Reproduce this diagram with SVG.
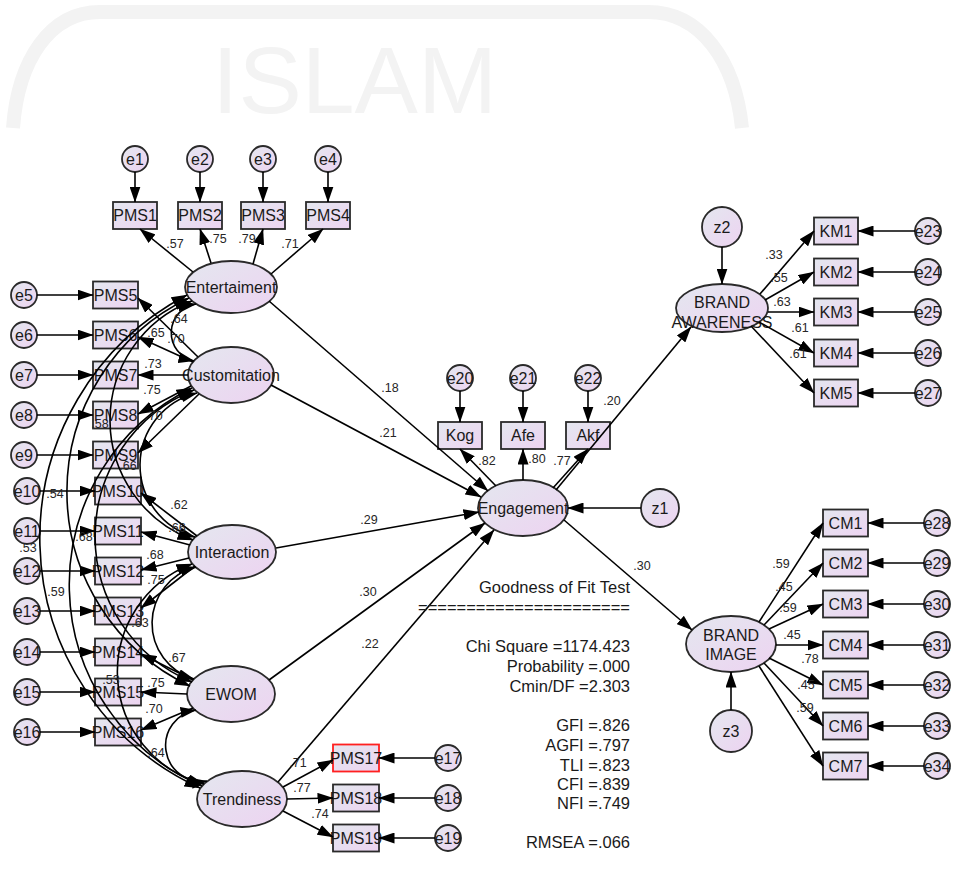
<svg xmlns="http://www.w3.org/2000/svg" width="956" height="872" viewBox="0 0 956 872">
<defs>
<linearGradient id="g" x1="0" y1="0" x2="1" y2="1">
<stop offset="0" stop-color="#e4e7ef"/>
<stop offset="1" stop-color="#edd3f1"/>
</linearGradient>
<marker id="a" markerUnits="userSpaceOnUse" markerWidth="16" markerHeight="11" viewBox="0 0 16 11" refX="15.5" refY="5.5" orient="auto"><path d="M0,0 L16,5.5 L0,11 Z" fill="#000"/></marker>
<marker id="b" markerUnits="userSpaceOnUse" markerWidth="16" markerHeight="11" viewBox="0 0 16 11" refX="15.5" refY="5.5" orient="auto-start-reverse"><path d="M0,0 L16,5.5 L0,11 Z" fill="#000"/></marker>
</defs>
<style>
.n ellipse,.n rect,.n circle{fill:url(#g);stroke:#2a2a2a;stroke-width:1.8}
.n.red rect{stroke:#ff2020}
text{font-family:"Liberation Sans",Arial,sans-serif;fill:#1a1a1a}
.n text{font-size:16px;text-anchor:middle}
#labels text{font-size:12.5px;text-anchor:middle;fill:#262626}
#gof text{font-size:16.5px;text-anchor:end}
#connectors line{stroke:#000;stroke-width:1.6;fill:none;marker-end:url(#a)}
#connectors path{stroke:#000;stroke-width:1.6;fill:none;marker-start:url(#b);marker-end:url(#b)}
</style>
<rect width="956" height="872" fill="#fff"/>
<g id="watermark">
<path d="M13,128 C18,60 50,12 100,12 L648,12 C700,12 735,60 742,128" fill="none" stroke="#f3f3f3" stroke-width="14"/>
<text x="212" y="113" font-size="95" style="fill:#f3f3f3">ISLAM</text>
</g>
<g id="nodes">
<g id="e1" class="n"><circle cx="135" cy="159" r="13"/><text x="135" y="164.5">e1</text></g>
<g id="e2" class="n"><circle cx="200" cy="159" r="13"/><text x="200" y="164.5">e2</text></g>
<g id="e3" class="n"><circle cx="263" cy="159" r="13"/><text x="263" y="164.5">e3</text></g>
<g id="e4" class="n"><circle cx="328" cy="159" r="13"/><text x="328" y="164.5">e4</text></g>
<g id="PMS1" class="n"><rect x="113" y="202" width="44" height="27"/><text x="135" y="221">PMS1</text></g>
<g id="PMS2" class="n"><rect x="178" y="202" width="44" height="27"/><text x="200" y="221">PMS2</text></g>
<g id="PMS3" class="n"><rect x="241" y="202" width="44" height="27"/><text x="263" y="221">PMS3</text></g>
<g id="PMS4" class="n"><rect x="306" y="202" width="44" height="27"/><text x="328" y="221">PMS4</text></g>
<g id="e5" class="n"><circle cx="24" cy="295" r="13"/><text x="24" y="300.5">e5</text></g>
<g id="e6" class="n"><circle cx="24" cy="335" r="13"/><text x="24" y="340.5">e6</text></g>
<g id="e7" class="n"><circle cx="24" cy="375" r="13"/><text x="24" y="380.5">e7</text></g>
<g id="e8" class="n"><circle cx="24" cy="415" r="13"/><text x="24" y="420.5">e8</text></g>
<g id="e9" class="n"><circle cx="24" cy="455" r="13"/><text x="24" y="460.5">e9</text></g>
<g id="e10" class="n"><circle cx="27" cy="491" r="13"/><text x="27" y="496.5">e10</text></g>
<g id="e11" class="n"><circle cx="27" cy="531" r="13"/><text x="27" y="536.5">e11</text></g>
<g id="e12" class="n"><circle cx="27" cy="571" r="13"/><text x="27" y="576.5">e12</text></g>
<g id="e13" class="n"><circle cx="27" cy="611" r="13"/><text x="27" y="616.5">e13</text></g>
<g id="e14" class="n"><circle cx="27" cy="652" r="13"/><text x="27" y="657.5">e14</text></g>
<g id="e15" class="n"><circle cx="27" cy="692" r="13"/><text x="27" y="697.5">e15</text></g>
<g id="e16" class="n"><circle cx="27" cy="732" r="13"/><text x="27" y="737.5">e16</text></g>
<g id="PMS5" class="n"><rect x="93" y="281.5" width="45" height="27"/><text x="115.5" y="300.5">PMS5</text></g>
<g id="PMS6" class="n"><rect x="93" y="321.5" width="45" height="27"/><text x="115.5" y="340.5">PMS6</text></g>
<g id="PMS7" class="n"><rect x="93" y="361.5" width="45" height="27"/><text x="115.5" y="380.5">PMS7</text></g>
<g id="PMS8" class="n"><rect x="93" y="401.5" width="45" height="27"/><text x="115.5" y="420.5">PMS8</text></g>
<g id="PMS9" class="n"><rect x="93" y="441.5" width="45" height="27"/><text x="115.5" y="460.5">PMS9</text></g>
<g id="PMS10" class="n"><rect x="95" y="477.5" width="46" height="27"/><text x="118" y="496.5">PMS10</text></g>
<g id="PMS11" class="n"><rect x="95" y="517.5" width="46" height="27"/><text x="118" y="536.5">PMS11</text></g>
<g id="PMS12" class="n"><rect x="95" y="557.5" width="46" height="27"/><text x="118" y="576.5">PMS12</text></g>
<g id="PMS13" class="n"><rect x="95" y="597.5" width="46" height="27"/><text x="118" y="616.5">PMS13</text></g>
<g id="PMS14" class="n"><rect x="95" y="638.5" width="46" height="27"/><text x="118" y="657.5">PMS14</text></g>
<g id="PMS15" class="n"><rect x="95" y="678.5" width="46" height="27"/><text x="118" y="697.5">PMS15</text></g>
<g id="PMS16" class="n"><rect x="95" y="718.5" width="46" height="27"/><text x="118" y="737.5">PMS16</text></g>
<g id="Entertaiment" class="n"><ellipse cx="231" cy="287" rx="46" ry="26"/><text x="231" y="292.5">Entertaiment</text></g>
<g id="Customitation" class="n"><ellipse cx="231" cy="375" rx="43" ry="28"/><text x="231" y="380.5">Customitation</text></g>
<g id="Interaction" class="n"><ellipse cx="232" cy="552" rx="44" ry="27"/><text x="232" y="557.5">Interaction</text></g>
<g id="EWOM" class="n"><ellipse cx="231" cy="694" rx="44" ry="28"/><text x="231" y="699.5">EWOM</text></g>
<g id="Trendiness" class="n"><ellipse cx="242" cy="799" rx="45" ry="28"/><text x="242" y="804.5">Trendiness</text></g>
<g id="PMS17" class="n red"><rect x="333" y="744.5" width="46" height="27"/><text x="356" y="763.5">PMS17</text></g>
<g id="PMS18" class="n"><rect x="333" y="784.5" width="46" height="27"/><text x="356" y="803.5">PMS18</text></g>
<g id="PMS19" class="n"><rect x="333" y="824.5" width="46" height="27"/><text x="356" y="843.5">PMS19</text></g>
<g id="e17" class="n"><circle cx="448" cy="758" r="13"/><text x="448" y="763.5">e17</text></g>
<g id="e18" class="n"><circle cx="448" cy="798" r="13"/><text x="448" y="803.5">e18</text></g>
<g id="e19" class="n"><circle cx="448" cy="838" r="13"/><text x="448" y="843.5">e19</text></g>
<g id="Engagement" class="n"><ellipse cx="523" cy="508" rx="45" ry="28"/><text x="523" y="513.5">Engagement</text></g>
<g id="e20" class="n"><circle cx="460" cy="378" r="13"/><text x="460" y="383.5">e20</text></g>
<g id="e21" class="n"><circle cx="523" cy="378" r="13"/><text x="523" y="383.5">e21</text></g>
<g id="e22" class="n"><circle cx="588" cy="378" r="13"/><text x="588" y="383.5">e22</text></g>
<g id="Kog" class="n"><rect x="438" y="422" width="44" height="27"/><text x="460" y="441">Kog</text></g>
<g id="Afe" class="n"><rect x="501" y="422" width="44" height="27"/><text x="523" y="441">Afe</text></g>
<g id="Akf" class="n"><rect x="566" y="422" width="44" height="27"/><text x="588" y="441">Akf</text></g>
<g id="z1" class="n"><circle cx="660" cy="508" r="19"/><text x="660" y="513.5">z1</text></g>
<g id="z2" class="n"><circle cx="722" cy="227" r="20"/><text x="722" y="232.5">z2</text></g>
<g id="BRAND_AWARENESS" class="n"><ellipse cx="722" cy="308" rx="46" ry="24"/><text x="722" y="308">BRAND</text><text x="722" y="328">AWARENESS</text></g>
<g id="KM1" class="n"><rect x="814" y="217.5" width="44" height="27"/><text x="836" y="236.5">KM1</text></g>
<g id="KM2" class="n"><rect x="814" y="258.5" width="44" height="27"/><text x="836" y="277.5">KM2</text></g>
<g id="KM3" class="n"><rect x="814" y="298.5" width="44" height="27"/><text x="836" y="317.5">KM3</text></g>
<g id="KM4" class="n"><rect x="814" y="339.5" width="44" height="27"/><text x="836" y="358.5">KM4</text></g>
<g id="KM5" class="n"><rect x="814" y="379.5" width="44" height="27"/><text x="836" y="398.5">KM5</text></g>
<g id="e23" class="n"><circle cx="928" cy="231" r="13"/><text x="928" y="236.5">e23</text></g>
<g id="e24" class="n"><circle cx="928" cy="272" r="13"/><text x="928" y="277.5">e24</text></g>
<g id="e25" class="n"><circle cx="928" cy="312" r="13"/><text x="928" y="317.5">e25</text></g>
<g id="e26" class="n"><circle cx="928" cy="353" r="13"/><text x="928" y="358.5">e26</text></g>
<g id="e27" class="n"><circle cx="928" cy="393" r="13"/><text x="928" y="398.5">e27</text></g>
<g id="BRAND_IMAGE" class="n"><ellipse cx="731" cy="644" rx="45" ry="28"/><text x="731" y="641">BRAND</text><text x="731" y="660">IMAGE</text></g>
<g id="z3" class="n"><circle cx="731" cy="731" r="21"/><text x="731" y="736.5">z3</text></g>
<g id="CM1" class="n"><rect x="823" y="509.5" width="45" height="27"/><text x="845.5" y="528.5">CM1</text></g>
<g id="CM2" class="n"><rect x="823" y="549.5" width="45" height="27"/><text x="845.5" y="568.5">CM2</text></g>
<g id="CM3" class="n"><rect x="823" y="590.5" width="45" height="27"/><text x="845.5" y="609.5">CM3</text></g>
<g id="CM4" class="n"><rect x="823" y="631.5" width="45" height="27"/><text x="845.5" y="650.5">CM4</text></g>
<g id="CM5" class="n"><rect x="823" y="671.5" width="45" height="27"/><text x="845.5" y="690.5">CM5</text></g>
<g id="CM6" class="n"><rect x="823" y="712.5" width="45" height="27"/><text x="845.5" y="731.5">CM6</text></g>
<g id="CM7" class="n"><rect x="823" y="752.5" width="45" height="27"/><text x="845.5" y="771.5">CM7</text></g>
<g id="e28" class="n"><circle cx="937" cy="523" r="13"/><text x="937" y="528.5">e28</text></g>
<g id="e29" class="n"><circle cx="937" cy="563" r="13"/><text x="937" y="568.5">e29</text></g>
<g id="e30" class="n"><circle cx="937" cy="604" r="13"/><text x="937" y="609.5">e30</text></g>
<g id="e31" class="n"><circle cx="937" cy="645" r="13"/><text x="937" y="650.5">e31</text></g>
<g id="e32" class="n"><circle cx="937" cy="685" r="13"/><text x="937" y="690.5">e32</text></g>
<g id="e33" class="n"><circle cx="937" cy="726" r="13"/><text x="937" y="731.5">e33</text></g>
<g id="e34" class="n"><circle cx="937" cy="766" r="13"/><text x="937" y="771.5">e34</text></g>
</g>
<g id="connectors">
<line x1="135" y1="172" x2="135" y2="202"/>
<line x1="200" y1="172" x2="200" y2="202"/>
<line x1="263" y1="172" x2="263" y2="202"/>
<line x1="328" y1="172" x2="328" y2="202"/>
<line x1="37" y1="295" x2="93" y2="295"/>
<line x1="37" y1="335" x2="93" y2="335"/>
<line x1="37" y1="375" x2="93" y2="375"/>
<line x1="37" y1="415" x2="93" y2="415"/>
<line x1="37" y1="455" x2="93" y2="455"/>
<line x1="40" y1="491" x2="95" y2="491"/>
<line x1="40" y1="531" x2="95" y2="531"/>
<line x1="40" y1="571" x2="95" y2="571"/>
<line x1="40" y1="611" x2="95" y2="611"/>
<line x1="40" y1="652" x2="95" y2="652"/>
<line x1="40" y1="692" x2="95" y2="692"/>
<line x1="40" y1="732" x2="95" y2="732"/>
<line x1="435" y1="758" x2="379" y2="758"/>
<line x1="435" y1="798" x2="379" y2="798"/>
<line x1="435" y1="838" x2="379" y2="838"/>
<line x1="460" y1="391" x2="460" y2="422"/>
<line x1="523" y1="391" x2="523" y2="422"/>
<line x1="588" y1="391" x2="588" y2="422"/>
<line x1="641" y1="508" x2="568" y2="508"/>
<line x1="722" y1="247" x2="722" y2="284"/>
<line x1="731" y1="710" x2="731" y2="672"/>
<line x1="915" y1="231" x2="858" y2="231"/>
<line x1="915" y1="272" x2="858" y2="272"/>
<line x1="915" y1="312" x2="858" y2="312"/>
<line x1="915" y1="353" x2="858" y2="353"/>
<line x1="915" y1="393" x2="858" y2="393"/>
<line x1="924" y1="523" x2="868" y2="523"/>
<line x1="924" y1="563" x2="868" y2="563"/>
<line x1="924" y1="604" x2="868" y2="604"/>
<line x1="924" y1="645" x2="868" y2="645"/>
<line x1="924" y1="685" x2="868" y2="685"/>
<line x1="924" y1="726" x2="868" y2="726"/>
<line x1="924" y1="766" x2="868" y2="766"/>
<line x1="193" y1="272" x2="140" y2="229"/>
<line x1="211" y1="263" x2="200" y2="229"/>
<line x1="253" y1="264" x2="263" y2="229"/>
<line x1="271" y1="274" x2="323" y2="229"/>
<line x1="198" y1="357" x2="138" y2="298"/>
<line x1="193" y1="362" x2="138" y2="337"/>
<line x1="188" y1="375" x2="138" y2="375"/>
<line x1="191" y1="386" x2="138" y2="414"/>
<line x1="199" y1="394" x2="138" y2="453"/>
<line x1="197" y1="536" x2="141" y2="493"/>
<line x1="190" y1="545" x2="141" y2="532"/>
<line x1="189" y1="558" x2="141" y2="570"/>
<line x1="195" y1="566" x2="141" y2="608"/>
<line x1="193" y1="680" x2="141" y2="654"/>
<line x1="187" y1="694" x2="141" y2="692"/>
<line x1="193" y1="708" x2="141" y2="730"/>
<line x1="283" y1="787" x2="333" y2="760"/>
<line x1="287" y1="799" x2="333" y2="798"/>
<line x1="283" y1="811" x2="333" y2="837"/>
<line x1="269" y1="301" x2="488" y2="491"/>
<line x1="271" y1="385" x2="481" y2="497"/>
<line x1="276" y1="548" x2="479" y2="512"/>
<line x1="269" y1="680" x2="485" y2="523"/>
<line x1="278" y1="782" x2="494" y2="530"/>
<line x1="496" y1="486" x2="460" y2="449"/>
<line x1="523" y1="480" x2="523" y2="449"/>
<line x1="553" y1="488" x2="588" y2="449"/>
<line x1="556" y1="490" x2="691" y2="327"/>
<line x1="564" y1="520" x2="692" y2="630"/>
<line x1="760" y1="294" x2="814" y2="231"/>
<line x1="765" y1="300" x2="814" y2="272"/>
<line x1="768" y1="312" x2="814" y2="312"/>
<line x1="759" y1="322" x2="814" y2="353"/>
<line x1="751" y1="326" x2="814" y2="393"/>
<line x1="759" y1="622" x2="823" y2="523"/>
<line x1="764" y1="625" x2="823" y2="563"/>
<line x1="769" y1="629" x2="823" y2="604"/>
<line x1="776" y1="645" x2="823" y2="645"/>
<line x1="769" y1="658" x2="823" y2="685"/>
<line x1="764" y1="663" x2="823" y2="726"/>
<line x1="759" y1="666" x2="823" y2="766"/>
<path d="M196,304 A29,29 0 0 0 194,361"/>
<path d="M192,301 A127.8,127.8 0 0 0 193,540"/>
<path d="M189,298 A214.8,214.8 0 0 0 190,686"/>
<path d="M187,295 A274.7,274.7 0 0 0 200,788"/>
<path d="M197,393 A74.3,74.3 0 0 0 195,537"/>
<path d="M194,390 A157.8,157.8 0 0 0 192,682"/>
<path d="M192,388 A219,219 0 0 0 202,786"/>
<path d="M196,567 A58,58 0 0 0 194,679"/>
<path d="M192,564 A115.6,115.6 0 0 0 204,784"/>
<path d="M196,710 A35.4,35.4 0 0 0 207,781"/>
</g>
<g id="labels">
<text x="175" y="247.5">.57</text>
<text x="218" y="242.5">.75</text>
<text x="247" y="242.5">.79</text>
<text x="290" y="247.5">.71</text>
<text x="179" y="322.5">.64</text>
<text x="156" y="336.5">.65</text>
<text x="176" y="342.5">.70</text>
<text x="153" y="367.5">.73</text>
<text x="152" y="393.5">.75</text>
<text x="154" y="419.5">.70</text>
<text x="100" y="427.5">.58</text>
<text x="128" y="469.5">.66</text>
<text x="55" y="497.5">.54</text>
<text x="179" y="508.5">.62</text>
<text x="177" y="531.5">.66</text>
<text x="28" y="551.5">.53</text>
<text x="84" y="540.5">.68</text>
<text x="155" y="558.5">.68</text>
<text x="156" y="583.5">.75</text>
<text x="56" y="595.5">.59</text>
<text x="140" y="626.5">.63</text>
<text x="177" y="661.5">.67</text>
<text x="111" y="683.5">.53</text>
<text x="156" y="686.5">.75</text>
<text x="154" y="712.5">.70</text>
<text x="156" y="756.5">.64</text>
<text x="390" y="391.5">.18</text>
<text x="388" y="436.5">.21</text>
<text x="369" y="523.5">.29</text>
<text x="368" y="595.5">.30</text>
<text x="370" y="647.5">.22</text>
<text x="487" y="464.5">.82</text>
<text x="537" y="462.5">.80</text>
<text x="562" y="464.5">.77</text>
<text x="612" y="404.5">.20</text>
<text x="642" y="569.5">.30</text>
<text x="298" y="766.5">.71</text>
<text x="302" y="791.5">.77</text>
<text x="320" y="817.5">.74</text>
<text x="774" y="258.5">.33</text>
<text x="779" y="281.5">.55</text>
<text x="782" y="305.5">.63</text>
<text x="800" y="331.5">.61</text>
<text x="798" y="357.5">.61</text>
<text x="781" y="567.5">.59</text>
<text x="784" y="590.5">.45</text>
<text x="788" y="611.5">.59</text>
<text x="792" y="638.5">.45</text>
<text x="810" y="662.5">.78</text>
<text x="806" y="688.5">.45</text>
<text x="805" y="711.5">.59</text>
</g>
<g id="gof">
<text x="630" y="593">Goodness of Fit Test</text>
<text x="630" y="613">======================</text>
<text x="630" y="652">Chi Square =1174.423</text>
<text x="630" y="672">Probability =.000</text>
<text x="630" y="692">Cmin/DF =2.303</text>
<text x="630" y="731">GFI =.826</text>
<text x="630" y="751">AGFI =.797</text>
<text x="630" y="771">TLI =.823</text>
<text x="630" y="790">CFI =.839</text>
<text x="630" y="809">NFI =.749</text>
<text x="630" y="848">RMSEA =.066</text>
</g>
</svg>
